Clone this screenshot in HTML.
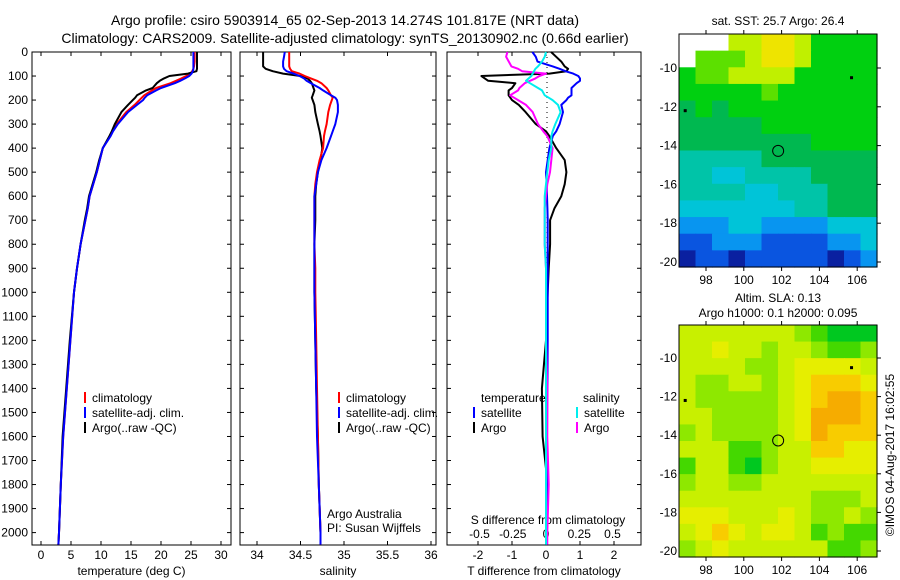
<!DOCTYPE html>
<html><head><meta charset="utf-8">
<style>
html,body{margin:0;padding:0;background:#fff;}
svg{display:block;font-family:"Liberation Sans",sans-serif;}
</style></head>
<body>
<svg id="fig" width="900" height="580" viewBox="0 0 900 580" xmlns="http://www.w3.org/2000/svg">
<text x="345" y="25" font-size="14" text-anchor="middle">Argo profile: csiro 5903914_65 02-Sep-2013 14.274S 101.817E (NRT data)</text>
<text x="345" y="43" font-size="14" text-anchor="middle">Climatology: CARS2009. Satellite-adjusted climatology: synTS_20130902.nc (0.66d earlier)</text>
<g id="g"></g>
</svg>
<script>
// ---- profile data ----
const depths = [0,20,40,60,70,80,90,100,110,120,130,150,160,180,190,200,220,250,300,330,350,400,450,500,550,600,650,700,800,900,1000,1200,1400,1600,1800,2000,2050];
const tempClim = [25.6,25.6,25.6,25.5,25.4,25.2,24.9,24.2,23.4,22.5,21.6,19.2,18.5,17.2,16.8,16.4,15.6,14.2,12.6,11.9,11.5,10.3,9.8,9.3,8.7,8.1,7.8,7.4,6.6,6.0,5.5,4.9,4.3,3.7,3.3,3.0,2.9];
const tempSat  = [25.4,25.4,25.4,25.4,25.4,25.3,25.1,24.7,24.0,23.2,22.3,20.0,19.2,17.7,17.3,17.0,16.0,14.5,12.8,12.0,11.6,10.3,9.8,9.3,8.7,8.1,7.8,7.4,6.6,6.0,5.5,4.9,4.3,3.7,3.3,3.0,2.9];
const tempArgo = [26.0,26.0,26.0,26.0,26.0,25.9,24.5,21.4,20.5,19.8,19.3,18.6,17.5,16.0,15.7,15.3,14.5,13.4,12.3,11.8,11.4,10.3,9.7,9.2,8.6,8.0,7.7,7.3,6.6,6.0,5.5,4.8,4.2,3.6,3.3,3.0,2.9];
const salClim = [34.37,34.37,34.37,34.37,34.38,34.40,34.49,34.55,34.62,34.69,34.74,34.80,34.82,34.85,34.87,34.86,34.84,34.82,34.80,34.78,34.77,34.76,34.72,34.69,34.67,34.66,34.66,34.66,34.66,34.67,34.67,34.68,34.69,34.70,34.71,34.73,34.73];
const salSat  = [34.32,34.31,34.30,34.30,34.31,34.34,34.42,34.49,34.54,34.57,34.62,34.72,34.76,34.85,34.90,34.92,34.93,34.93,34.90,34.87,34.85,34.80,34.74,34.70,34.68,34.66,34.66,34.66,34.66,34.66,34.66,34.67,34.68,34.69,34.71,34.73,34.73];
const salArgo = [34.07,34.07,34.07,34.07,34.10,34.18,34.30,34.50,34.58,34.61,34.63,34.65,34.66,34.64,34.63,34.64,34.66,34.67,34.70,34.72,34.73,34.75,34.73,34.70,34.68,34.67,34.67,34.67,34.66,34.66,34.66,34.67,34.68,34.70,34.71,34.73,34.73];
const dTsat  = [-0.4,-0.3,-0.25,0.2,0.4,0.57,0.8,0.95,1.0,1.0,0.9,0.75,0.75,0.75,0.65,0.6,0.45,0.5,0.4,0.3,0.2,0.1,0.05,0.0,0.02,0.03,0.04,0.05,0.05,0.05,0.05,0.05,0.04,0.03,0.03,0.02,0.02];
const dTargo = [0.15,0.3,0.45,0.55,0.65,0.6,0.1,-1.9,-1.8,-1.7,-0.9,-1.0,-1.1,-1.1,-1.05,-1.0,-0.8,-0.6,-0.3,0.0,0.1,0.3,0.55,0.6,0.55,0.45,0.25,0.12,0.12,0.08,0.05,0.0,-0.12,-0.1,0.05,0.02,0.0];
const dSsat  = [0.0,-0.01,-0.03,-0.06,-0.08,-0.09,-0.1,-0.11,-0.13,-0.15,-0.12,-0.06,-0.03,-0.01,0.02,0.05,0.09,0.11,0.07,0.05,0.04,0.04,0.02,0.01,0.0,-0.01,-0.01,-0.01,-0.01,0.0,0.0,0.0,0.0,0.0,0.0,0.0,0.0];
const dSargo = [-0.29,-0.3,-0.28,-0.26,-0.21,-0.18,0.0,-0.05,-0.08,-0.12,-0.16,-0.2,-0.21,-0.27,-0.24,-0.21,-0.15,-0.1,-0.06,-0.02,0.01,0.05,0.04,0.03,0.01,0.0,-0.01,-0.01,-0.01,0.0,0.0,0.0,0.01,0.01,0.02,0.01,0.01];
const depthTicks = [0,100,200,300,400,500,600,700,800,900,1000,1100,1200,1300,1400,1500,1600,1700,1800,1900,2000];
const tempTicks = [0,5,10,15,20,25,30];
const salTicks = [34,34.5,35,35.5,36];
const salTickLabels = ["34","34.5","35","35.5","36"];
const dTTicks = [-2,-1,0,1,2];
const dSTicks = [-0.5,-0.25,0,0.25,0.5];
const dSTickLabels = ["-0.5","-0.25","0","0.25","0.5"];
// ---- map data (colour class per cell) ----
const sstGrid = [
"WWW889986666","W77789986666","677888866666","666667666666","565666666666","555556666666",
"555555556666","444445555555","443344445555","444433444555","333333344555",
"222332222333","112221111223","011011111012"];
const slaGrid = [
"333333321000","334332332112","333322344443","322332345554","322222345665",
"332222346665","232222346555","333112335544","133102334444","233223333333",
"333333332223","444333432232","345434431211","234333333112"];
const lonTicks = [98,100,102,104,106];
const latTicks = [-10,-12,-14,-16,-18,-20];
const argoLon = 101.817, argoLat = -14.274;
const markLon = [105.7, 96.9], markLat = [-10.5, -12.2];
</script>
<script>
const NS="http://www.w3.org/2000/svg";
const G=document.getElementById('g');
function mk(tag,at,parent){const e=document.createElementNS(NS,tag);for(const k in at)e.setAttribute(k,at[k]);(parent||G).appendChild(e);return e;}
function txt(s,x,y,at){const e=mk('text',Object.assign({x:x,y:y,'font-size':12},at||{}));e.textContent=s;return e;}
const yD=d=>52+d*0.2403;
const PB=545;
const xT=t=>41+t*6.0;
const xS=s=>257+(s-34)*87;
const xDT=t=>546+t*34;
const xDS=s=>546+s*133;

function panel(name,x0,x1,ticks,labels,fx,title,leftLabels){
  const b=mk('rect',{x:x0,y:52,width:x1-x0,height:PB-52,fill:'none',stroke:'#000','stroke-width':1});
  
  
  depthTicks.forEach(d=>{
    const y=yD(d);
    mk('line',{x1:x0,x2:x0+4,y1:y,y2:y,stroke:'#000'});
    mk('line',{x1:x1-4,x2:x1,y1:y,y2:y,stroke:'#000'});
    if(leftLabels){const t=txt(String(d),x0-4,y+4,{'text-anchor':'end'});
      
      }
  });
  ticks.forEach((v,i)=>{
    const x=fx(v);
    mk('line',{x1:x,x2:x,y1:PB,y2:PB-4,stroke:'#000'});
    mk('line',{x1:x,x2:x,y1:52,y2:56,stroke:'#000'});
    if(labels){const t=txt(labels[i],x,559,{'text-anchor':'middle'});
      
      }
  });
  const t=txt(title,(x0+x1)/2,575,{'text-anchor':'middle'});
  
  
}
function line(vals,fx,color,name){
  const pts=vals.map((v,i)=>fx(v).toFixed(1)+','+yD(depths[i]).toFixed(1)).join(' ');
  const p=mk('polyline',{points:pts,fill:'none',stroke:color,'stroke-width':2,'stroke-linejoin':'round'});
  
  
}
function legend(items,x,y0){
  items.forEach((it,i)=>{
    const y=y0+i*15;
    mk('line',{x1:x,x2:x,y1:y-10,y2:y+1,stroke:it[1],'stroke-width':2});
    const t=txt(it[0],x+7,y);
    
    
  });
}
// panel 1
panel('temperature-panel',32,231,tempTicks,tempTicks.map(String),xT,'temperature (deg C)',true);
line(tempClim,xT,'#f00','temp-climatology-line');
line(tempArgo,xT,'#000','temp-argo-line');
line(tempSat,xT,'#00f','temp-satellite-line');
legend([['climatology','#f00'],['satellite-adj. clim.','#00f'],['Argo(..raw -QC)','#000']],85,402);
// panel 2
panel('salinity-panel',240,436,salTicks,salTickLabels,xS,'salinity',false);
line(salArgo,xS,'#000','sal-argo-line');
line(salClim,xS,'#f00','sal-climatology-line');
line(salSat,xS,'#00f','sal-satellite-line');
legend([['climatology','#f00'],['satellite-adj. clim.','#00f'],['Argo(..raw -QC)','#000']],339,402);
// cover overflow of clipped legend text beyond frame
mk('rect',{x:437,y:380,width:9,height:60,fill:'#fff'});
let t=txt('Argo Australia',327,518);
t=txt('PI: Susan Wijffels',327,532);
// panel 3
panel('difference-panel',447,641,dTTicks,dTTicks.map(String),xDT,'T difference from climatology',false);
dSTicks.forEach((v,i)=>{const tt=txt(dSTickLabels[i],xDS(v),538,{'text-anchor':'middle'});
  });
t=txt('S difference from climatology',548,524,{'text-anchor':'middle'});
mk('line',{x1:547,x2:547,y1:52,y2:PB,stroke:'#000','stroke-dasharray':'1,4'});
line(dTargo,xDT,'#000','dT-argo-line');
line(dTsat,xDT,'#00f','dT-satellite-line');
line(dSargo,xDS,'#f0f','dS-argo-line');
line(dSsat,xDS,'#0ee','dS-satellite-line');
t=txt('temperature',481,402);
t=txt('salinity',583,402);
legend([['satellite','#00f'],['Argo','#000']],474,417);
legend([['satellite','#0ee'],['Argo','#f0f']],577,417);

// ---- maps ----
const sstCol={W:'#ffffff','0':'#0a20a0','1':'#0a55e0','2':'#0895f0','3':'#00c4d8','4':'#00c4a8','5':'#00b850','6':'#00d010','7':'#5ce000','8':'#c0f000','9':'#eee400'};
const slaCol={'0':'#00c820','1':'#44d800','2':'#8ee800','3':'#c8f000','4':'#e6ee00','5':'#f8cc00','6':'#f6ac00','7':'#f09000'};
function map(name,grid,cols,x0,y0,x1,y1,lat10y,lat20y){
  const rows=grid.length,nc=grid[0].length,cw=(x1-x0)/nc,ch=(y1-y0)/rows;
  grid.forEach((r,ri)=>{for(let ci=0;ci<nc;ci++){
    mk('rect',{x:(x0+ci*cw).toFixed(2),y:(y0+ri*ch).toFixed(2),width:(cw+0.6).toFixed(2),height:(ch+0.6).toFixed(2),fill:cols[r[ci]]});
  }});
  const fLon=l=>706+(l-98)*18.9;
  const fLat=l=>lat10y+(l+10)*(lat20y-lat10y)/-10;
  const fr=mk('rect',{x:x0,y:y0,width:x1-x0,height:y1-y0,fill:'none',stroke:'#000'});
  
  
  lonTicks.forEach(l=>{const x=fLon(l);
    mk('line',{x1:x,x2:x,y1:y1,y2:y1+4,stroke:'#000'});mk('line',{x1:x,x2:x,y1:y0,y2:y0-4,stroke:'#000'});
    const tt=txt(String(l),x,y1+17,{'text-anchor':'middle'});});
  latTicks.forEach(l=>{const y=fLat(l);
    mk('line',{x1:x1,x2:x1+4,y1:y,y2:y,stroke:'#000'});
    const tt=txt(String(l),x0-2,y+4,{'text-anchor':'end'});});
  markLon.forEach((l,i)=>{const m=mk('rect',{x:fLon(l)-1.5,y:fLat(markLat[i])-1.5,width:3,height:3,fill:'#000'});
    });
  const c=mk('circle',{cx:fLon(argoLon),cy:fLat(argoLat),r:5.5,fill:'none',stroke:'#000','stroke-width':1});
  
  
}
map('sst-map',sstGrid,sstCol,679,34,877,267,68,262);
map('sla-map',slaGrid,slaCol,679,325,877,557,358,551);
t=txt('sat. SST: 25.7 Argo: 26.4',778,25,{'text-anchor':'middle'});
t=txt('Altim. SLA: 0.13',778,302,{'text-anchor':'middle'});
t=txt('Argo h1000: 0.1 h2000: 0.095',778,317,{'text-anchor':'middle'});
t=txt('©IMOS 04-Aug-2017 16:02:55',0,0,{'text-anchor':'middle',transform:'translate(894,455) rotate(-90)'});

</script>
</body></html>
